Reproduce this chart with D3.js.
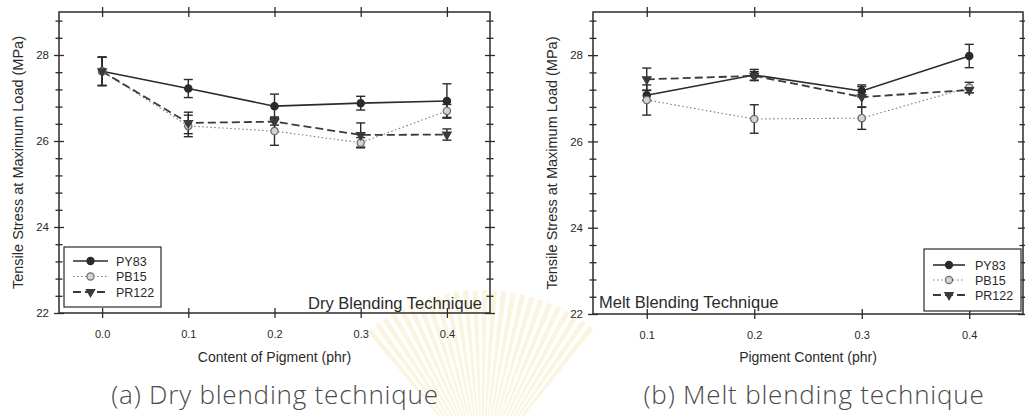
<!DOCTYPE html>
<html>
<head>
<meta charset="utf-8">
<script src="https://cdn.jsdelivr.net/npm/d3@7"></script>
<style>
  html, body { margin: 0; padding: 0; background: #fff; }
  svg { display: block; }
  text { font-family: "Liberation Sans", Arial, sans-serif; fill: #2a2a2a; }
  .caption { font-family: "Open Sans", "Lato", sans-serif; font-weight: 300; fill: #4a4a4a; }
</style>
</head>
<body>
<svg id="chart" width="1025" height="416"></svg>
<script>
// ---- Data: tensile stress at maximum load (MPa), mean and error ----
const dryContent  = [0.0, 0.1, 0.2, 0.3, 0.4];
const dryPY83     = [27.62, 27.22, 26.81, 26.88, 26.93];
const dryPY83Err  = [0.33, 0.21, 0.28, 0.16, 0.40];
const dryPB15     = [27.62, 26.35, 26.23, 25.96, 26.70];
const dryPB15Err  = [0.33, 0.25, 0.33, 0.12, 0.15];
const dryPR122    = [27.62, 26.42, 26.45, 26.14, 26.15];
const dryPR122Err = [0.33, 0.25, 0.08, 0.28, 0.13];

const meltContent  = [0.1, 0.2, 0.3, 0.4];
const meltPY83     = [27.07, 27.54, 27.17, 27.98];
const meltPY83Err  = [0.12, 0.13, 0.14, 0.27];
const meltPB15     = [26.96, 26.52, 26.54, 27.25];
const meltPB15Err  = [0.35, 0.33, 0.26, 0.12];
const meltPR122    = [27.44, 27.52, 27.03, 27.19];
const meltPR122Err = [0.26, 0.10, 0.24, 0.06];

const seriesNames = ["PY83", "PB15", "PR122"];
const yMajorTicks = [22, 24, 26, 28];
const yMinorTicks = [22.4, 22.8, 23.2, 23.6, 24.4, 24.8, 25.2, 25.6, 26.4, 26.8, 27.2, 27.6, 28.4, 28.8];
const dryXTicks  = [0.0, 0.1, 0.2, 0.3, 0.4];
const meltXTicks = [0.1, 0.2, 0.3, 0.4];

// ---- Styles per series ----
const styles = {
  PY83:  { stroke: "#2b2b2b", width: 1.6, dash: null,      marker: "circle",   fill: "#2b2b2b", mstroke: "#2b2b2b" },
  PB15:  { stroke: "#7a7a7a", width: 1.1, dash: "1.5,2.5", marker: "circle",   fill: "#d4d4d4", mstroke: "#6a6a6a" },
  PR122: { stroke: "#3a3a3a", width: 1.8, dash: "8,4",     marker: "triangle", fill: "#3a3a3a", mstroke: "#3a3a3a" }
};

const svg = d3.select("#chart");
svg.append("rect").attr("width", 1025).attr("height", 416).attr("fill", "#fff");

// faint sunburst emblem in the page background
const burst = svg.append("g").attr("transform", "translate(482,468)").attr("opacity", 0.2);
const nRays = 26;
const rayArc = d3.arc().innerRadius(50).outerRadius(178);
for (let i = 0; i < nRays; i++) {
  const a0 = -0.7 + i * (1.4 / nRays);
  burst.append("path")
    .attr("d", rayArc({ startAngle: a0, endAngle: a0 + 0.03 }))
    .attr("fill", "#e8d070");
}

function symbolFor(name, size) {
  const st = styles[name];
  if (st.marker === "circle") return d3.symbol().type(d3.symbolCircle).size(size)();
  return d3.symbol().type(d3.symbolTriangle).size(size * 0.75)();
}

function drawPanel(opts) {
  const { left, right, top, bottom, xDomain, xTicks, content, series, xTitle, note, noteAnchor, legendBox, yTitleX } = opts;
  const x = d3.scaleLinear().domain(xDomain).range([left, right]);
  const y = d3.scaleLinear().domain([22, 29]).range([bottom, top]);
  const g = svg.append("g");

  // frame
  g.append("rect").attr("x", left).attr("y", top).attr("width", right - left).attr("height", bottom - top)
    .attr("fill", "none").attr("stroke", "#2b2b2b").attr("stroke-width", 1.5);

  const styleAxis = sel => {
    sel.select(".domain").remove();
    sel.selectAll(".tick line").attr("stroke", "#2b2b2b").attr("stroke-width", 1.3);
  };

  // y ticks straddle the left and right frame lines
  [left, right].forEach((xx, idx) => {
    g.append("g").attr("transform", `translate(${xx},0)`)
      .call(d3.axisLeft(y).tickValues(yMajorTicks).tickSize(5).tickFormat(idx === 0 ? d3.format("d") : ""))
      .call(styleAxis)
      .call(s => s.selectAll("text").attr("font-size", 11.5).attr("fill", "#333").attr("dx", "-2"));
    g.append("g").attr("transform", `translate(${xx},0)`)
      .call(d3.axisRight(y).tickValues(yMajorTicks).tickSize(5).tickFormat(""))
      .call(styleAxis);
    g.append("g").attr("transform", `translate(${xx},0)`)
      .call(d3.axisLeft(y).tickValues(yMinorTicks).tickSize(3.5).tickFormat(""))
      .call(styleAxis);
    g.append("g").attr("transform", `translate(${xx},0)`)
      .call(d3.axisRight(y).tickValues(yMinorTicks).tickSize(3.5).tickFormat(""))
      .call(styleAxis);
  });

  // x ticks straddle the bottom and top frame lines
  [bottom, top].forEach((yy, idx) => {
    g.append("g").attr("transform", `translate(0,${yy})`)
      .call(d3.axisBottom(x).tickValues(xTicks).tickSize(5).tickFormat(idx === 0 ? d3.format(".1f") : ""))
      .call(styleAxis)
      .call(s => s.selectAll("text").attr("font-size", 11).attr("fill", "#333").attr("dy", "1.5em"));
    g.append("g").attr("transform", `translate(0,${yy})`)
      .call(d3.axisTop(x).tickValues(xTicks).tickSize(5).tickFormat(""))
      .call(styleAxis);
  });

  // axis titles
  g.append("text").attr("x", (left + right) / 2).attr("y", 362).attr("text-anchor", "middle")
    .attr("font-size", 14).text(xTitle);
  g.append("text").attr("transform", `translate(${yTitleX},${(top + bottom) / 2}) rotate(-90)`)
    .attr("text-anchor", "middle").attr("font-size", 14.5).text("Tensile Stress at Maximum Load (MPa)");

  // lines
  series.forEach(s => {
    const st = styles[s.name];
    const pts = content.map((c, i) => [c, s.values[i]]);
    g.append("path").datum(pts)
      .attr("d", d3.line().x(d => x(d[0])).y(d => y(d[1])))
      .attr("fill", "none").attr("stroke", st.stroke).attr("stroke-width", st.width)
      .attr("stroke-dasharray", st.dash);
  });

  // error bars
  series.forEach(s => {
    content.forEach((c, i) => {
      const cx = x(c), hi = y(s.values[i] + s.err[i]), lo = y(s.values[i] - s.err[i]);
      const eb = g.append("g").attr("stroke", "#2b2b2b").attr("stroke-width", 1.4);
      eb.append("line").attr("x1", cx).attr("x2", cx).attr("y1", hi).attr("y2", lo);
      eb.append("line").attr("x1", cx - 4.5).attr("x2", cx + 4.5).attr("y1", hi).attr("y2", hi);
      eb.append("line").attr("x1", cx - 4.5).attr("x2", cx + 4.5).attr("y1", lo).attr("y2", lo);
    });
  });

  // markers
  series.forEach(s => {
    const st = styles[s.name];
    content.forEach((c, i) => {
      g.append("path").attr("d", symbolFor(s.name, 42))
        .attr("transform", `translate(${x(c)},${y(s.values[i])})` + (st.marker === "triangle" ? " rotate(180)" : ""))
        .attr("fill", st.fill).attr("stroke", st.mstroke).attr("stroke-width", 1.2);
    });
  });

  // technique label
  g.append("text").attr("x", note.x).attr("y", note.y).attr("text-anchor", noteAnchor)
    .attr("font-size", 16.5).attr("fill", "#222").text(note.text);

  // legend
  const lb = legendBox;
  const lg = g.append("g");
  lg.append("rect").attr("x", lb.x).attr("y", lb.y).attr("width", lb.w).attr("height", lb.h)
    .attr("fill", "#fff").attr("stroke", "#2b2b2b").attr("stroke-width", 1.2);
  seriesNames.forEach((name, i) => {
    const st = styles[name];
    const ry = lb.y + lb.rowTop + i * lb.rowStep;
    lg.append("line").attr("x1", lb.x + lb.lineX0).attr("x2", lb.x + lb.lineX1).attr("y1", ry).attr("y2", ry)
      .attr("stroke", st.stroke).attr("stroke-width", st.width).attr("stroke-dasharray", st.dash);
    lg.append("path").attr("d", symbolFor(name, 40))
      .attr("transform", `translate(${lb.x + (lb.lineX0 + lb.lineX1) / 2},${ry})` + (st.marker === "triangle" ? " rotate(180)" : ""))
      .attr("fill", st.fill).attr("stroke", st.mstroke).attr("stroke-width", 1.2);
    lg.append("text").attr("x", lb.x + lb.textX).attr("y", ry + 4.5).attr("font-size", 12.5).text(name);
  });
}

drawPanel({
  left: 59, right: 490, top: 12, bottom: 313,
  xDomain: [-0.05, 0.45], xTicks: dryXTicks, content: dryContent,
  series: [
    { name: "PY83", values: dryPY83, err: dryPY83Err },
    { name: "PB15", values: dryPB15, err: dryPB15Err },
    { name: "PR122", values: dryPR122, err: dryPR122Err }
  ],
  xTitle: "Content of Pigment (phr)",
  note: { x: 482, y: 309, text: "Dry Blending Technique" }, noteAnchor: "end",
  legendBox: { x: 64, y: 247, w: 97, h: 60, rowTop: 14, rowStep: 15.5, lineX0: 9, lineX1: 44, textX: 52 },
  yTitleX: 23
});

drawPanel({
  left: 593, right: 1023, top: 12, bottom: 314,
  xDomain: [0.05, 0.45], xTicks: meltXTicks, content: meltContent,
  series: [
    { name: "PY83", values: meltPY83, err: meltPY83Err },
    { name: "PB15", values: meltPB15, err: meltPB15Err },
    { name: "PR122", values: meltPR122, err: meltPR122Err }
  ],
  xTitle: "Pigment Content (phr)",
  note: { x: 599, y: 308, text: "Melt Blending Technique" }, noteAnchor: "start",
  legendBox: { x: 924, y: 249, w: 97, h: 62, rowTop: 16, rowStep: 15, lineX0: 9, lineX1: 41, textX: 51 },
  yTitleX: 557
});

// panel captions
svg.append("text").attr("class", "caption").attr("x", 275).attr("y", 404).attr("text-anchor", "middle")
  .attr("font-size", 26).attr("letter-spacing", 0.8).text("(a) Dry blending technique");
svg.append("text").attr("class", "caption").attr("x", 814).attr("y", 404).attr("text-anchor", "middle")
  .attr("font-size", 26).attr("letter-spacing", 0.8).text("(b) Melt blending technique");
</script>
</body>
</html>
